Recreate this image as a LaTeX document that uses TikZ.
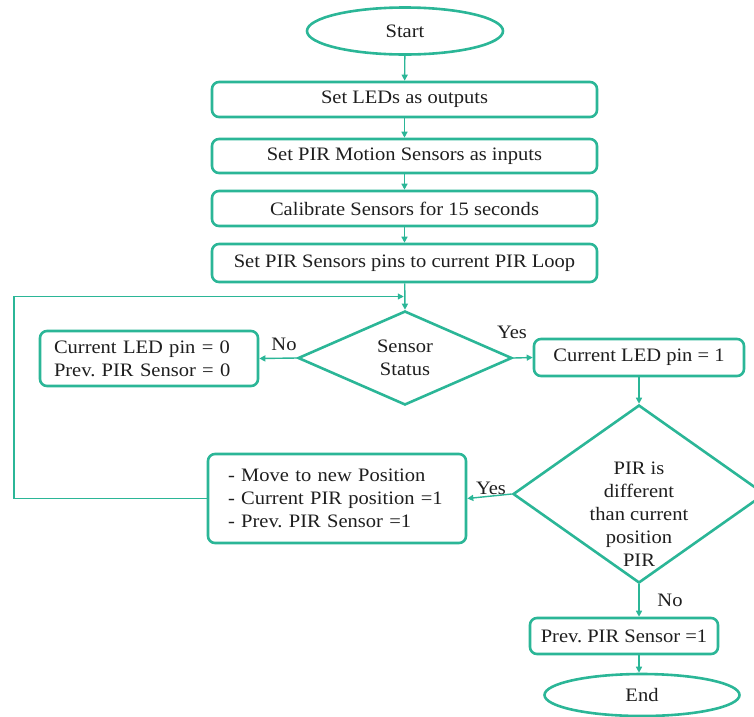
\documentclass[tikz,border=0pt]{standalone}
\usepackage{fontspec}
\setmainfont{Liberation Serif}[FakeStretch=1.08]
\usetikzlibrary{shapes.geometric,arrows.meta,calc}
\definecolor{teal1}{RGB}{43,182,151}
\definecolor{txt}{RGB}{30,30,30}
\frenchspacing
\begin{document}
\begin{tikzpicture}[x=1pt,y=-1pt,
  font=\fontsize{19}{23}\selectfont\frenchspacing, text=txt,
  box/.style={draw=teal1, line width=2.6pt, rounded corners=7pt, inner sep=0pt, align=center},
  oval/.style={draw=teal1, line width=2.6pt, ellipse, inner sep=0pt},
  dia/.style={draw=teal1, line width=2.6pt, diamond, inner sep=0pt},
  conn/.style={draw=teal1, line width=1.4pt, -{Triangle[length=6pt,width=6pt]}},
  lbl/.style={inner sep=0pt}]
\useasboundingbox (0,0) rectangle (754,716);

\node[oval, minimum width=196pt, minimum height=47pt] (start) at (405,31) {Start};
\node[box, minimum width=385pt, minimum height=35pt] (b1) at (404.5,99.5) {Set LEDs as outputs};
\node[box, minimum width=385pt, minimum height=34pt] (b2) at (404.5,156) {Set PIR Motion Sensors as inputs};
\node[box, minimum width=385pt, minimum height=35pt] (b3) at (404.5,208.5) {Calibrate Sensors for 15 seconds};
\node[box, minimum width=385pt, minimum height=38pt] (b4) at (404.5,263) {Set PIR Sensors pins to current PIR Loop};

\node[dia, minimum width=214pt, minimum height=94pt] (d1) at (405,358) {};
\node[lbl, align=center] (d1t) at (405,358) {Sensor\\Status};

\node[box, minimum width=218pt, minimum height=55pt, text width=190pt, align=left] (led0) at (149,358.5) {Current LED pin = 0\\Prev. PIR Sensor = 0};
\node[box, minimum width=210pt, minimum height=37pt] (led1) at (639,357.5) {Current LED pin = 1};

\node[dia, minimum width=252pt, minimum height=178pt] (d2) at (639,494) {};
\node[lbl, align=center] (d2t) at (639,514) {PIR is\\different\\than current\\position\\PIR};

\node[box, minimum width=258pt, minimum height=89pt, text width=218pt, align=left] (move) at (337,498.5) {- Move to new Position\\- Current PIR position =1\\- Prev. PIR Sensor =1};

\node[box, minimum width=188pt, minimum height=36pt] (prev) at (624,636) {Prev. PIR Sensor =1};
\node[oval, minimum width=195pt, minimum height=42pt] (end) at (642,695) {End};

\coordinate (lx) at (14,0);
\coordinate (lm) at ($(b4.south)!0.5!(d1.north)$);

\draw[conn] (start) -- (b1);
\draw[conn] (b1) -- (b2);
\draw[conn] (b2) -- (b3);
\draw[conn] (b3) -- (b4);
\draw[conn] (b4) -- (d1.north);
\draw[conn] (d1.west) -- (led0.east);
\draw[conn] (d1.east) -- (led1.west);
\draw[conn] (led1.south) -- (d2.north);
\draw[conn] (d2.west) -- (move.east);
\draw[conn] (d2.south) -- (d2.south |- prev.north);
\draw[conn] (d2.south |- prev.south) -- (d2.south |- end.north);
\draw[conn, line width=1.1pt] (move.west) -| (lx |- lm) -- ([xshift=-1pt]lm);

\node[lbl] (no1) at (284,344) {No};
\node[lbl] (yes1) at (512,332) {Yes};
\node[lbl] (yes2) at (491,488) {Yes};
\node[lbl] (no2) at (670,600) {No};
\end{tikzpicture}
\end{document}
